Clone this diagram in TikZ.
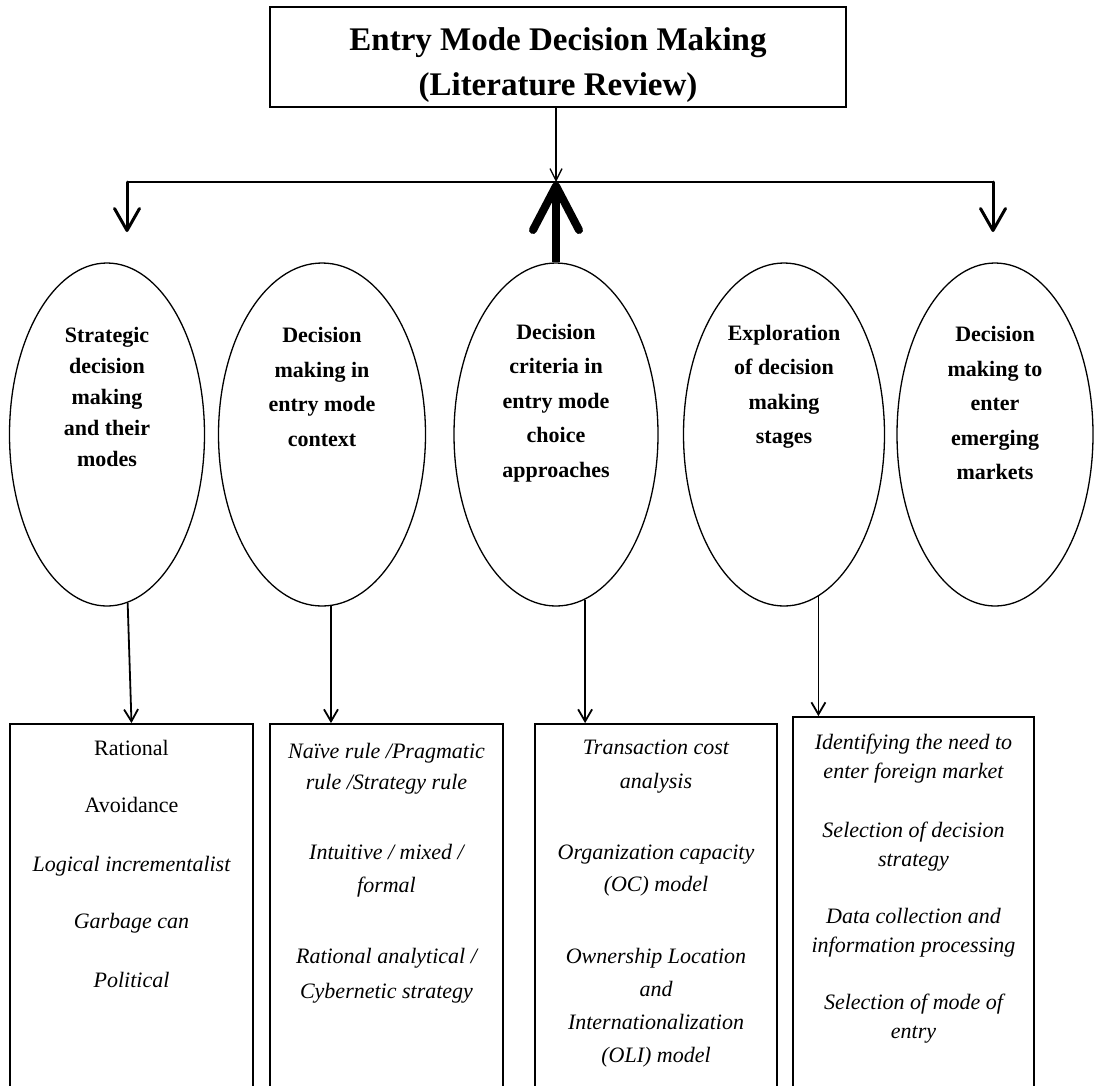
\documentclass[tikz,border=0pt]{standalone}
\usepackage{fontspec}
\setmainfont{Liberation Serif}
\usetikzlibrary{arrows.meta,shapes.geometric,calc}
\begin{document}
\begin{tikzpicture}[x=1pt,y=-1pt,
  titlebox/.style={draw, line width=1.6pt, inner sep=0pt, minimum width=576pt, minimum height=100pt},
  titletext/.style={font=\fontsize{33}{45}\bfseries\selectfont, align=center, inner sep=0pt},
  ov/.style={ellipse, draw, line width=1.3pt, inner sep=0pt, minimum height=343pt},
  ovtext/.style={font=\fontsize{22}{34.5}\bfseries\selectfont, align=center, inner sep=0pt},
  listbox/.style={draw, line width=1.8pt, inner sep=0pt},
  item/.style={font=\fontsize{22}{32}\itshape\selectfont, align=center, inner sep=0pt},
  uitem/.style={font=\fontsize{22}{32}\selectfont, align=center, inner sep=0pt},
  thinarrow/.style={line width=1.8pt, -{Straight Barb[length=12pt,width=14pt]}},
  toparrow/.style={line width=1.3pt, -{Straight Barb[length=12pt,width=12pt]}},
  sidearrow/.style={line width=3pt, line cap=round, -{Straight Barb[length=22pt,width=25pt,round]}},
  bigarrow/.style={line width=8pt, -{Straight Barb[length=44pt,width=46pt,round]}}
]
\useasboundingbox (0,0) rectangle (1094,1085);

% title
\node[titlebox] (title) at (558,57) {};
\node[titletext] (ttl) at (558,65) {Entry Mode Decision Making\\(Literature Review)};

% junction coordinates
\coordinate (jn) at (556,182);
\coordinate (lc) at (127,182);
\coordinate (rc) at (993,182);
\coordinate (lt) at (127,232);
\coordinate (rt) at (993,232);

% ellipses
\node[ov, minimum width=195pt] (e1) at (107,434.5) {};
\node[ov, minimum width=207pt] (e2) at (322,434.5) {};
\node[ov, minimum width=204pt] (e3) at (556,434.5) {};
\node[ov, minimum width=201pt] (e4) at (784,434.5) {};
\node[ov, minimum width=196pt] (e5) at (995,434.5) {};

\node[ovtext, font=\fontsize{22}{31}\bfseries\selectfont] (e1t) at (107,397) {Strategic\\decision\\making\\and their\\modes};
\node[ovtext] (e2t) at (322,387) {Decision\\making in\\entry mode\\context};
\node[ovtext] (e3t) at (556,403) {Decision\\criteria in\\entry mode\\choice\\approaches};
\node[ovtext] (e4t) at (784,387) {Exploration\\of decision\\making\\stages};
\node[ovtext] (e5t) at (995,403) {Decision\\making to\\enter\\emerging\\markets};

% connectors at top
\draw[toparrow] (title.south -| jn) -- (jn);
\draw[line width=1.8pt] (lc) -- (rc);
\draw[sidearrow] (lc) -- (lt);
\draw[sidearrow] (rc) -- (rt);
\draw[bigarrow] (e3.north -| jn) -- (jn);

% list boxes
\node[listbox, minimum width=243pt, minimum height=376pt] (b1) at (131.5,912) {};
\node[listbox, minimum width=233pt, minimum height=376pt] (b2) at (386.5,912) {};
\node[listbox, minimum width=242pt, minimum height=376pt] (b3) at (656,912) {};
\node[listbox, minimum width=241pt, minimum height=383pt] (b4) at (913.5,908.5) {};

% connectors ellipse -> box
\draw[thinarrow] (e1.-83) -- (b1.north);
\draw[thinarrow] (e2.-87) -- (e2.-87 |- b2.north);
\draw[thinarrow] (e3.-80) -- (e3.-80 |- b3.north);
\draw[thinarrow] (e4.-78) -- (e4.-78 |- b4.north);

% box 1 items
\node[uitem] (i11) at (131.5,748) {Rational};
\node[uitem] (i12) at (131.5,805) {Avoidance};
\node[item] (i13) at (131.5,866) {Logical incrementalist};
\node[item] (i14) at (131.5,923) {Garbage can};
\node[item] (i15) at (131.5,980) {Political};

% box 2 items
\node[item, font=\fontsize{22}{31}\itshape\selectfont] (i21) at (386.5,768.5) {Naïve rule /Pragmatic\\rule /Strategy rule};
\node[item, font=\fontsize{22}{33}\itshape\selectfont] (i22) at (386.5,870.5) {Intuitive / mixed /\\formal};
\node[item, font=\fontsize{22}{35}\itshape\selectfont] (i23) at (386.5,975.5) {Rational analytical /\\Cybernetic strategy};

% box 3 items
\node[item, font=\fontsize{22}{34}\itshape\selectfont] (i31) at (656,767) {Transaction cost\\analysis};
\node[item, font=\fontsize{22}{32}\itshape\selectfont] (i32) at (656,871) {Organization capacity\\(OC) model};
\node[item, font=\fontsize{22}{33}\itshape\selectfont] (i33) at (656,1007.5) {Ownership Location\\and\\Internationalization\\(OLI) model};

% box 4 items
\node[item, font=\fontsize{22}{29}\itshape\selectfont] (i41) at (913.5,758.5) {Identifying the need to\\enter foreign market};
\node[item, font=\fontsize{22}{29}\itshape\selectfont] (i42) at (913.5,846.5) {Selection of decision\\strategy};
\node[item, font=\fontsize{22}{29}\itshape\selectfont] (i43) at (913.5,932.5) {Data collection and\\information processing};
\node[item, font=\fontsize{22}{29}\itshape\selectfont] (i44) at (913.5,1018.5) {Selection of mode of\\entry};
\end{tikzpicture}
\end{document}
